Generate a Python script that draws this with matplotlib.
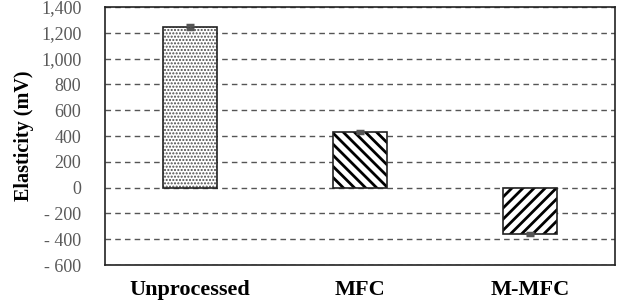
import matplotlib
matplotlib.use("Agg")
import matplotlib.pyplot as plt
from matplotlib.ticker import FuncFormatter

categories = ["Unprocessed", "MFC", "M-MFC"]
values = [1245, 428, -358]
errors = [12, 8, 10]
hatches = [".....", "\\\\\\", "///"]
hatch_colors = ["#4a4a4a", "black", "black"]
hatch_widths = [1.0, 2.0, 2.0]
yticks = list(range(-600, 1401, 200))

plt.rcParams['font.family'] = ['Liberation Serif', 'DejaVu Serif']
plt.rcParams['hatch.linewidth'] = 2.0

fig = plt.figure(figsize=(6.25, 3.05), dpi=100)
ax = fig.add_axes([0.168, 0.131, 0.816, 0.846])

x = list(range(len(categories)))
for xi, v, e, h, hc, hw in zip(x, values, errors, hatches, hatch_colors, hatch_widths):
    bars = ax.bar(xi, v, width=0.32, color="white", edgecolor=hc, hatch=h, linewidth=0, zorder=3)
    for b in bars:
        try:
            b.set_hatch_linewidth(hw)
        except Exception:
            pass
    ax.bar(xi, v, width=0.32, color="none", edgecolor="#222222", linewidth=1.2, zorder=3.5)
    ax.errorbar(xi, v, yerr=e, fmt="none", ecolor="#555555", elinewidth=1.0, capsize=3, capthick=2.5, zorder=4)

ax.set_xlim(-0.5, 2.5)
ax.set_ylim(-600, 1400)
ax.set_yticks(yticks)
ax.yaxis.set_major_formatter(FuncFormatter(lambda v, p: f"{int(v):,}".replace("-", "- ") if v < 0 else f"{int(v):,}"))
ax.grid(axis="y", linestyle=(0, (4, 3)), color="#555555", linewidth=1.0, zorder=0)
ax.set_xticks(x)
ax.set_xticklabels(categories, fontsize=16, fontweight="bold")
ax.tick_params(axis="x", length=0, pad=11)
ax.tick_params(axis="y", length=0, labelsize=13, labelcolor="#595959", pad=17)
ax.set_ylabel("Elasticity (mV)", fontsize=14.5, fontweight="bold", labelpad=5)
for s in ax.spines.values():
    s.set_color("#222222")
    s.set_linewidth(1.2)

fig.savefig("out.png", dpi=100)
